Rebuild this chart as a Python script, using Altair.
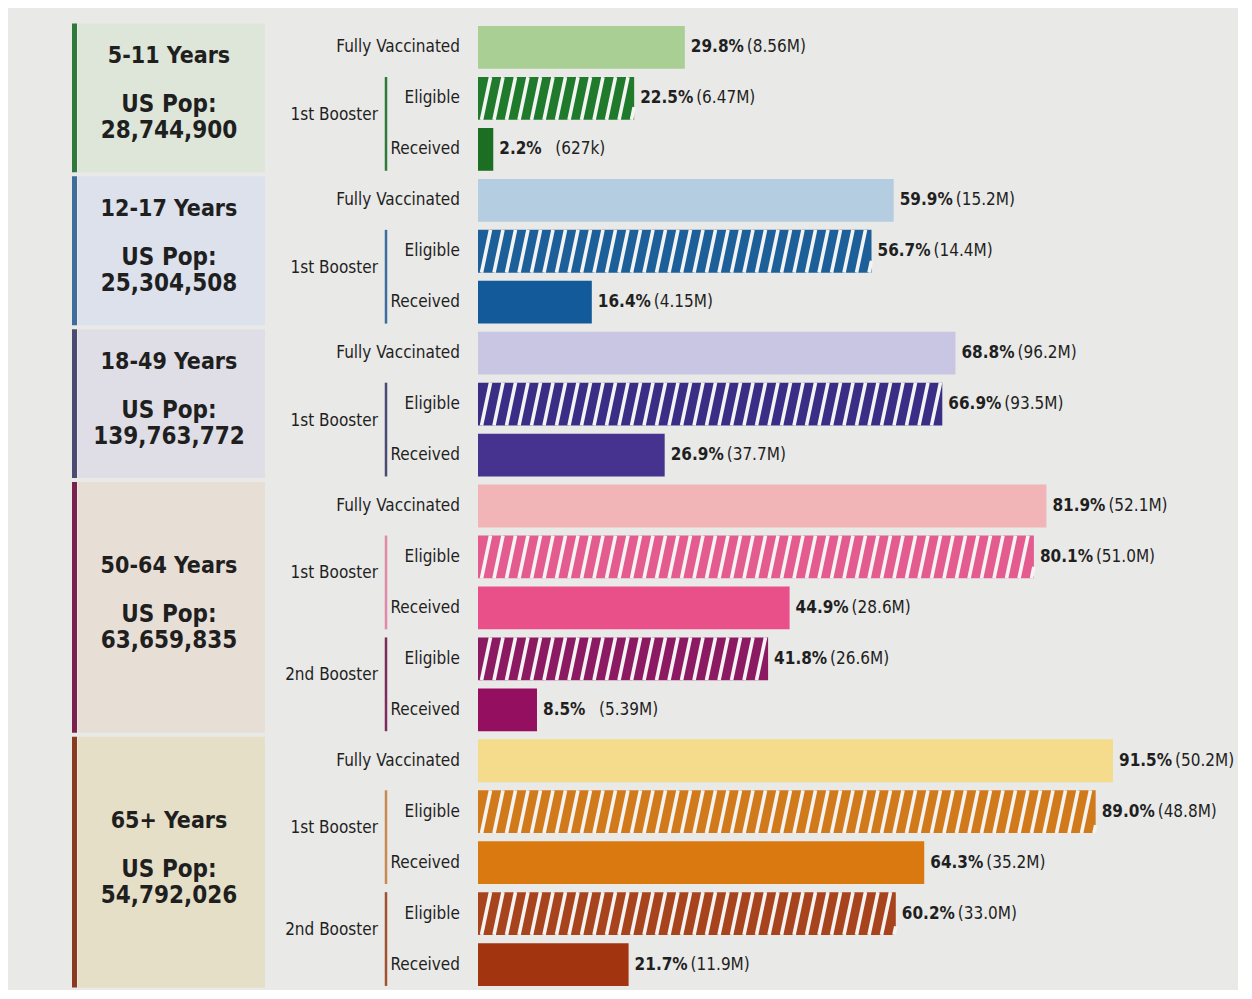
import altair as alt
import pandas as pd

# ---------------- data ----------------
groups = ["5-11 Years", "12-17 Years", "18-49 Years", "50-64 Years", "65+ Years"]
populations = ["28,744,900", "25,304,508", "139,763,772", "63,659,835", "54,792,026"]

fully_pct = [29.8, 59.9, 68.8, 81.9, 91.5]
fully_cnt = ["8.56M", "15.2M", "96.2M", "52.1M", "50.2M"]

b1_elig_pct = [22.5, 56.7, 66.9, 80.1, 89.0]
b1_elig_cnt = ["6.47M", "14.4M", "93.5M", "51.0M", "48.8M"]
b1_recv_pct = [2.2, 16.4, 26.9, 44.9, 64.3]
b1_recv_cnt = ["627k", "4.15M", "37.7M", "28.6M", "35.2M"]

b2_elig_pct = [None, None, None, 41.8, 60.2]
b2_elig_cnt = [None, None, None, "26.6M", "33.0M"]
b2_recv_pct = [None, None, None, 8.5, 21.7]
b2_recv_cnt = [None, None, None, "5.39M", "11.9M"]

# colours per group
fully_col = ["#a9cf94", "#b5cde0", "#c8c6e2", "#f1b5b8", "#f4dc8c"]
elig1_col = ["#1f7a2c", "#1d5f99", "#3a2d85", "#e35b8f", "#d17a1c"]
recv1_col = ["#1b6e22", "#135a9a", "#46338f", "#e9508a", "#d9790f"]
elig2_col = [None, None, None, "#8c1a62", "#a8441d"]
recv2_col = [None, None, None, "#950f60", "#a23510"]
panel_col = ["#dde6d8", "#dce1ec", "#dfdee6", "#e7ded6", "#e6dfc7"]
edge_col = ["#2f7a3a", "#3d6d9c", "#4b4a72", "#7b2150", "#8a3b1e"]
line1_col = ["#2f7a3a", "#3d6d9c", "#4b4a72", "#e08aa8", "#c98a50"]
line2_col = [None, None, None, "#7b2d5e", "#a0522d"]

# ---------------- build tables ----------------
HALF = 0.42
bars, kinds, boosters, panels = [], [], [], []
row = 0
for g in range(len(groups)):
    start = row
    bars.append(dict(row=row, v=fully_pct[g], pct=f"{fully_pct[g]:.1f}%", cnt=f"({fully_cnt[g]})",
                     col=fully_col[g], hatch=False))
    kinds.append(dict(row=row, label="Fully Vaccinated"))
    row += 1
    boost = [("1st Booster", b1_elig_pct, b1_elig_cnt, elig1_col, b1_recv_pct, b1_recv_cnt, recv1_col, line1_col)]
    if b2_elig_pct[g] is not None:
        boost.append(("2nd Booster", b2_elig_pct, b2_elig_cnt, elig2_col, b2_recv_pct, b2_recv_cnt, recv2_col, line2_col))
    for name, ep, ec, ecol, rp, rc, rcol, lcol in boost:
        bars.append(dict(row=row, v=ep[g], pct=f"{ep[g]:.1f}%", cnt=f"({ec[g]})", col=ecol[g], hatch=True))
        kinds.append(dict(row=row, label="Eligible"))
        bars.append(dict(row=row + 1, v=rp[g], pct=f"{rp[g]:.1f}%", cnt=f"({rc[g]})", col=rcol[g], hatch=False))
        kinds.append(dict(row=row + 1, label="Received"))
        boosters.append(dict(mid=row + 0.5, y0=row - HALF, y1=row + 1 + HALF, label=name, col=lcol[g]))
        row += 2
    end = row - 1
    panels.append(dict(y0=start - 0.47, y1=end + 0.45, mid=(start + end) / 2, title=groups[g],
                       pop=populations[g], fill=panel_col[g], edge=edge_col[g]))
NROWS = row

bars_df = pd.DataFrame(bars)
bars_df["x0"] = 0.0
bars_df["y0"] = bars_df["row"] - HALF
bars_df["y1"] = bars_df["row"] + HALF
kinds_df = pd.DataFrame(kinds)
boost_df = pd.DataFrame(boosters)
panel_df = pd.DataFrame(panels)

# ---------------- layout ----------------
PX_PER_PCT = 6.94
W = 760
H = 968
XMAX = W / PX_PER_PCT

# hatch stripes (decoration) for the "Eligible" bars
PERIOD = 12.5 / PX_PER_PCT
SHIFT = 9.0 / PX_PER_PCT
stripes = []
for b in bars:
    if not b["hatch"]:
        continue
    v = b["v"]
    yb, yt = b["row"] + HALF, b["row"] - HALF
    k = 0
    while True:
        xs = -SHIFT + k * PERIOD
        if xs >= v:
            break
        xe = xs + SHIFT
        t0 = 0.0 if xs >= 0 else (-xs) / SHIFT
        t1 = 1.0 if xe <= v else (v - xs) / SHIFT
        if t1 > t0:
            stripes.append(dict(xa=xs + t0 * SHIFT, xb=xs + t1 * SHIFT,
                                ya=yb + t0 * (yt - yb), yb=yb + t1 * (yt - yb)))
        k += 1
stripe_df = pd.DataFrame(stripes)

FONT = "DejaVu Sans Condensed, Liberation Sans Narrow, Roboto, sans-serif"
TXT = "#1f1f1f"

xs = alt.Scale(domain=[0, XMAX], nice=False, zero=False)
ys = alt.Scale(domain=[-0.5, NROWS - 0.5], reverse=True, nice=False, zero=False)
X = lambda f: alt.X(f, type="quantitative", scale=xs, axis=None)
Y = lambda f: alt.Y(f, type="quantitative", scale=ys, axis=None)

panel_rect = alt.Chart(panel_df).mark_rect().encode(
    x=alt.value(-400), x2=alt.value(-213), y=Y("y0"), y2=alt.Y2("y1"),
    color=alt.Color("fill:N", scale=None))
panel_edge = alt.Chart(panel_df).mark_rect().encode(
    x=alt.value(-406), x2=alt.value(-401), y=Y("y0"), y2=alt.Y2("y1"),
    color=alt.Color("edge:N", scale=None))
panel_title = alt.Chart(panel_df).mark_text(font=FONT, fontSize=23, fontWeight="bold", color=TXT,
                                            align="center", baseline="middle", dy=-42).encode(
    x=alt.value(-309), y=Y("mid"), text="title:N")
panel_pop = alt.Chart(panel_df).mark_text(font=FONT, fontSize=24, fontWeight="bold", color=TXT,
                                          align="center", baseline="middle", dy=7).encode(
    x=alt.value(-309), y=Y("mid"), text=alt.value("US Pop:"))
panel_num = alt.Chart(panel_df).mark_text(font=FONT, fontSize=24, fontWeight="bold", color=TXT,
                                          align="center", baseline="middle", dy=33).encode(
    x=alt.value(-309), y=Y("mid"), text="pop:N")

kind_text = alt.Chart(kinds_df).mark_text(font=FONT, fontSize=17, color=TXT, align="right",
                                          baseline="middle").encode(
    x=alt.value(-18), y=Y("row"), text="label:N")
boost_text = alt.Chart(boost_df).mark_text(font=FONT, fontSize=17, color=TXT, align="right",
                                           baseline="middle", dy=-9).encode(
    x=alt.value(-100), y=Y("mid"), text="label:N")
boost_line = alt.Chart(boost_df).mark_rule(strokeWidth=2.5).encode(
    x=alt.value(-92), y=Y("y0"), y2=alt.Y2("y1"), color=alt.Color("col:N", scale=None))

bar_rect = alt.Chart(bars_df).mark_rect().encode(
    x=X("x0"), x2=alt.X2("v"), y=Y("y0"), y2=alt.Y2("y1"), color=alt.Color("col:N", scale=None))
hatch = alt.Chart(stripe_df).mark_rule(strokeWidth=3.6, color="#f4f4f2").encode(
    x=X("xa"), x2=alt.X2("xb"), y=Y("ya"), y2=alt.Y2("yb"))
pct_text = alt.Chart(bars_df).mark_text(font=FONT, fontSize=17, fontWeight="bold", color=TXT,
                                        align="left", baseline="middle", dx=6).encode(
    x=X("v"), y=Y("row"), text="pct:N")
cnt_text = alt.Chart(bars_df).mark_text(font=FONT, fontSize=17, color=TXT,
                                        align="left", baseline="middle", dx=62).encode(
    x=X("v"), y=Y("row"), text="cnt:N")

chart = alt.layer(
    panel_rect, panel_edge, panel_title, panel_pop, panel_num,
    kind_text, boost_text, boost_line,
    bar_rect, hatch, pct_text, cnt_text,
).properties(
    width=W, height=H,
    autosize=alt.AutoSizeParams(type="none"),
    padding={"left": 470, "top": 14, "right": 0, "bottom": 0},
    background="#e9e9e7",
).configure_view(stroke=None)

chart.save("out.html", embed_options={"renderer": "svg", "actions": False})
